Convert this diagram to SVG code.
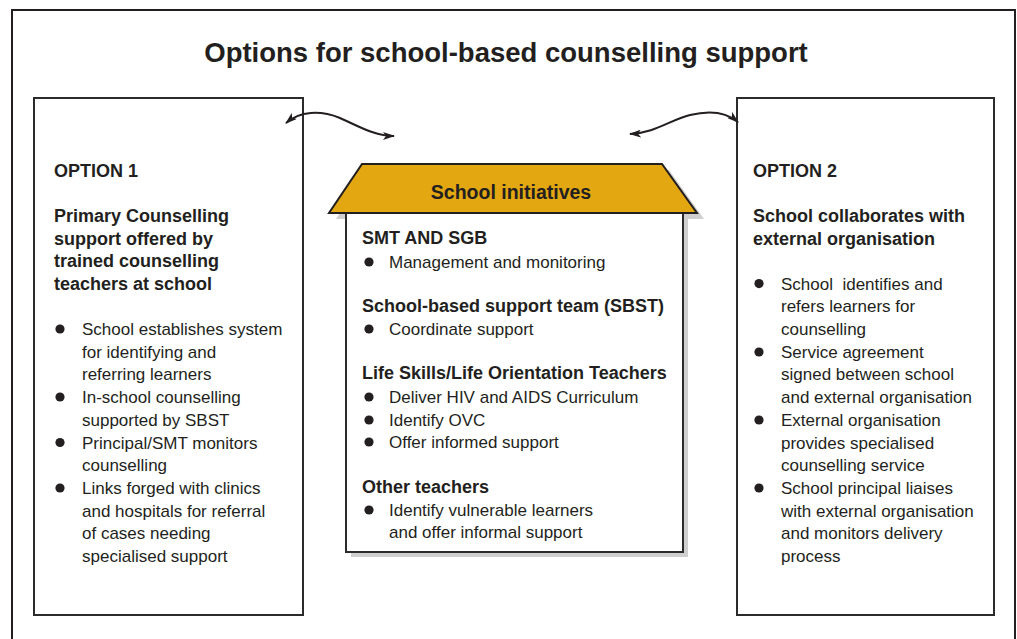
<svg xmlns="http://www.w3.org/2000/svg" width="1017" height="639" viewBox="0 0 1017 639">
<style>
.t{font-family:"Liberation Sans",Arial,sans-serif;fill:#231f20}
.b{font-weight:bold;font-size:18px}
.r{font-size:17px}
.box{fill:#fff;stroke:#2b2b2b;stroke-width:2}
.dot{fill:#231f20}
.con{fill:none;stroke:#231f20;stroke-width:2}
</style>
<defs>
<marker id="ah" viewBox="0 0 12 8" refX="11" refY="4" markerWidth="12" markerHeight="8" markerUnits="userSpaceOnUse" orient="auto-start-reverse">
<path d="M0,0 L12,4 L0,8 L3,4 Z" fill="#231f20"/>
</marker>
</defs>
<rect width="1017" height="639" fill="#fff"/>
<rect x="12" y="10" width="1003" height="640" fill="none" stroke="#231f20" stroke-width="2"/>
<text class="t" x="506" y="62" text-anchor="middle" font-weight="bold" font-size="27.5">Options for school-based counselling support</text>

<g id="option1">
<rect class="box" x="34" y="98" width="269" height="517"/>
<text class="t b" x="54" y="177">OPTION 1</text>
<text class="t b" x="54" y="222">Primary Counselling</text>
<text class="t b" x="54" y="244.7">support offered by</text>
<text class="t b" x="54" y="267.4">trained counselling</text>
<text class="t b" x="54" y="290">teachers at school</text>
<circle class="dot" cx="60" cy="329" r="4.6"/>
<circle class="dot" cx="60" cy="397" r="4.6"/>
<circle class="dot" cx="60" cy="442.5" r="4.6"/>
<circle class="dot" cx="60" cy="488" r="4.6"/>
<text class="t r" x="82" y="335">School establishes system</text>
<text class="t r" x="82" y="357.7">for identifying and</text>
<text class="t r" x="82" y="380.4">referring learners</text>
<text class="t r" x="82" y="403.1">In-school counselling</text>
<text class="t r" x="82" y="425.8">supported by SBST</text>
<text class="t r" x="82" y="448.5">Principal/SMT monitors</text>
<text class="t r" x="82" y="471.2">counselling</text>
<text class="t r" x="82" y="493.9">Links forged with clinics</text>
<text class="t r" x="82" y="516.6">and hospitals for referral</text>
<text class="t r" x="82" y="539.3">of cases needing</text>
<text class="t r" x="82" y="562">specialised support</text>
</g>

<g id="option2">
<rect class="box" x="737" y="98" width="257" height="517"/>
<text class="t b" x="753" y="177">OPTION 2</text>
<text class="t b" x="753" y="222">School collaborates with</text>
<text class="t b" x="753" y="244.7">external organisation</text>
<circle class="dot" cx="759" cy="283.6" r="4.6"/>
<circle class="dot" cx="759" cy="352" r="4.6"/>
<circle class="dot" cx="759" cy="420" r="4.6"/>
<circle class="dot" cx="759" cy="488" r="4.6"/>
<text class="t r" x="781" y="289.6" xml:space="preserve">School  identifies and</text>
<text class="t r" x="781" y="312.3">refers learners for</text>
<text class="t r" x="781" y="335">counselling</text>
<text class="t r" x="781" y="357.7">Service agreement</text>
<text class="t r" x="781" y="380.4">signed between school</text>
<text class="t r" x="781" y="403.1">and external organisation</text>
<text class="t r" x="781" y="425.8">External organisation</text>
<text class="t r" x="781" y="448.5">provides specialised</text>
<text class="t r" x="781" y="471.2">counselling service</text>
<text class="t r" x="781" y="493.9">School principal liaises</text>
<text class="t r" x="781" y="516.6">with external organisation</text>
<text class="t r" x="781" y="539.3">and monitors delivery</text>
<text class="t r" x="781" y="562">process</text>
</g>

<g id="school-initiatives">
<rect x="351" y="218" width="337" height="339" fill="#cfcfcf"/>
<polygon points="369,170 669,170 704,219 336,219" fill="#cfcfcf"/>
<rect class="box" x="346" y="213" width="337" height="339"/>
<polygon points="362,164 662,164 697,213 329,213" fill="#e3a712" stroke="#231f20" stroke-width="2" stroke-linejoin="miter"/>
<text class="t" x="511" y="199" text-anchor="middle" font-weight="bold" font-size="19.5">School initiatives</text>
<text class="t b" x="362" y="244">SMT AND SGB</text>
<circle class="dot" cx="369" cy="262" r="4.6"/>
<text class="t r" x="389" y="268">Management and monitoring</text>
<text class="t b" x="362" y="312">School-based support team (SBST)</text>
<circle class="dot" cx="369" cy="329" r="4.6"/>
<text class="t r" x="389" y="335">Coordinate support</text>
<text class="t b" x="362" y="379">Life Skills/Life Orientation Teachers</text>
<circle class="dot" cx="369" cy="397" r="4.6"/>
<text class="t r" x="389" y="403">Deliver HIV and AIDS Curriculum</text>
<circle class="dot" cx="369" cy="420" r="4.6"/>
<text class="t r" x="389" y="426">Identify OVC</text>
<circle class="dot" cx="369" cy="442" r="4.6"/>
<text class="t r" x="389" y="448">Offer informed support</text>
<text class="t b" x="362" y="493">Other teachers</text>
<circle class="dot" cx="369" cy="510" r="4.6"/>
<text class="t r" x="389" y="516">Identify vulnerable learners</text>
<text class="t r" x="389" y="538">and offer informal support</text>
</g>

<g id="connectors">
<path class="con" d="M286,123 C300,111 320,110 340,118 C360,127 375,136 394,136" marker-start="url(#ah)" marker-end="url(#ah)"/>
<path class="con" d="M630,134 C655,133 670,120 690,115 C710,110 726,112 738,122" marker-start="url(#ah)" marker-end="url(#ah)"/>
</g>
</svg>
